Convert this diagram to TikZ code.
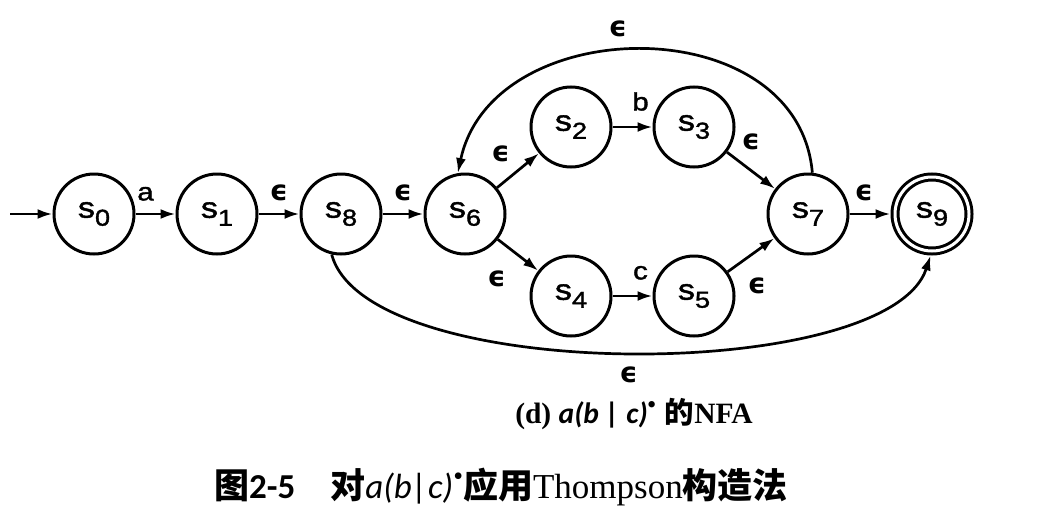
\documentclass[tikz,border=0pt]{standalone}
\usepackage{fontspec}
\setmainfont{Liberation Serif}
\setsansfont{Liberation Sans}
\newfontfamily\statefont{Liberation Sans}[FakeStretch=1.18,FakeBold=1.5]
\newfontfamily\epsfont{DejaVu Sans}
\newfontfamily\calfont{Carlito}
\newfontfamily\cjk{Noto Sans CJK SC}
\usepackage{tikz}
\usetikzlibrary{positioning,arrows.meta}
\newcommand{\sname}[1]{s\raisebox{-8pt}{\fontsize{23}{23}\selectfont #1}}
\newcommand{\eps}{{\epsfont\bfseries\fontsize{28}{28}\selectfont ϵ}}
\newcommand{\ci}[1]{{\calfont\itshape #1}}
\newcommand{\kstar}{\raisebox{0.38em}{\scalebox{0.8}{\textbullet}}}

\begin{document}
\begin{tikzpicture}[x=1pt,y=-1pt,
  state/.style={draw,circle,line width=3pt,minimum size=80pt,inner sep=0pt,font=\statefont\fontsize{29}{29}\selectfont},
  stateacc/.style={state,double,double distance=3pt,minimum size=74pt,outer sep=4.5pt},
  trans/.style={-{Latex[length=15pt,width=10pt]},line width=2.7pt},
  lbl/.style={font=\statefont\fontsize{25}{25}\selectfont,inner sep=2pt}]
\useasboundingbox (0,0) rectangle (1056,519);
\coordinate (start) at (10,214);
\node[state] (s0) at (94,214) {\sname{0}};
\node[state] (s1) at (217,214) {\sname{1}};
\node[state] (s8) at (341,214) {\sname{8}};
\node[state] (s6) at (465,214) {\sname{6}};
\node[state] (s2) at (571,127) {\sname{2}};
\node[state] (s3) at (694,127) {\sname{3}};
\node[state] (s4) at (571,296) {\sname{4}};
\node[state] (s5) at (694,296) {\sname{5}};
\node[state] (s7) at (808,214) {\sname{7}};
\node[stateacc] (s9) at (932,214) {\sname{9}};
\draw[trans] (start) -- (s0);
\draw[trans] (s0) -- node[lbl,above=10pt,pos=0.25] {a} (s1);
\draw[trans] (s1) -- node[lbl,above=10pt] {\eps} (s8);
\draw[trans] (s8) -- node[lbl,above=10pt] {\eps} (s6);
\draw[trans] (s6) -- node[lbl,above left=7pt] {\eps} (s2);
\draw[trans] (s6) -- node[lbl,below left=12pt and 9pt] {\eps} (s4);
\draw[trans] (s2) -- node[lbl,above=13pt,pos=0.7] {b} (s3);
\draw[trans] (s4) -- node[lbl,above=13pt,pos=0.7] {c} (s5);
\draw[trans] (s3) -- node[lbl,above=17pt] {\eps} (s7);
\draw[trans] (s5) -- node[lbl,below=19pt,xshift=6pt] {\eps} (s7);
\draw[trans] (s7) -- node[lbl,above=10pt,pos=0.35] {\eps} (s9);
% the two long epsilon arcs
\draw[trans] (s7.84) to[out=95,in=78,looseness=1.2] node[lbl,above=11pt,pos=0.55] {\eps} (s6.100);
\draw[trans] (s8.-103) to[out=-75,in=-108,looseness=0.58] node[lbl,below=11pt] {\eps} (s9.-92);
% captions
\node (sub) at (634,414) {\fontsize{29.5}{29.5}\selectfont\bfseries (d) {\calfont\itshape a(b | c)}\kstar\hspace{0.3em}{\cjk 的}NFA};
\node (cap) at (501,487) {\fontsize{35}{35}\selectfont{\cjk\bfseries 图}{\calfont\bfseries 2-5}\hspace{1em}{\cjk\bfseries 对}\ci{a(b|c)}\kstar{\cjk\bfseries 应用}Thompson{\cjk\bfseries 构造法}};
\end{tikzpicture}
\end{document}
